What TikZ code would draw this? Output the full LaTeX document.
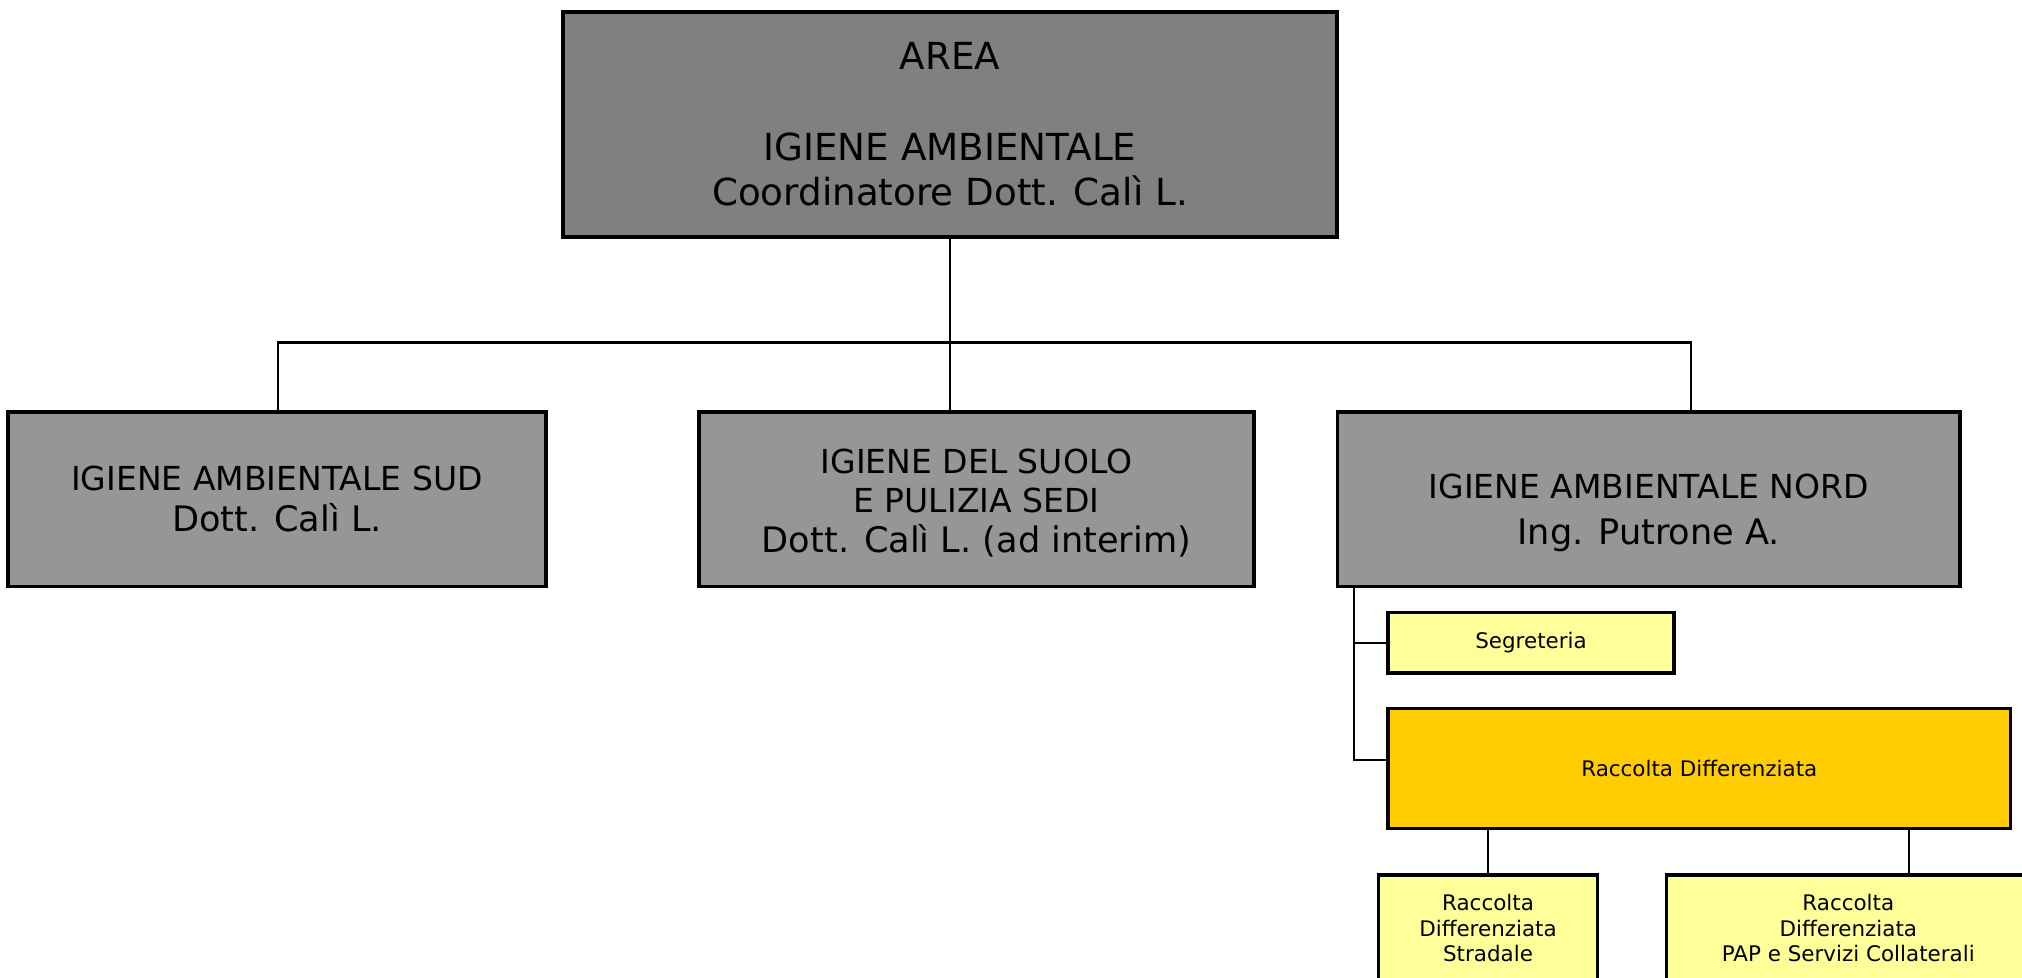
\documentclass[tikz,border=0pt]{standalone}
\usepackage{fontspec}
\setmainfont{DejaVu Sans}
\definecolor{areagray}{RGB}{128,128,128}
\definecolor{unitgray}{RGB}{150,150,150}
\definecolor{paleyellow}{RGB}{255,255,153}
\definecolor{gold}{RGB}{255,204,0}
\tikzset{
  box/.style={draw=black, line width=0.95pt, inner sep=0pt, align=center},
  areabox/.style={box, fill=areagray, minimum width=77.4mm, minimum height=22.5mm},
  unitbox/.style={box, fill=unitgray, minimum height=17.45mm},
  officebox/.style={box, fill=paleyellow, font=\fontsize{6.1}{7.3}\selectfont},
  link/.style={line width=0.6pt}
}
\begin{document}
\begin{tikzpicture}[x=0.1mm, y=-0.1mm]

\useasboundingbox (0,0) rectangle (2022,977);

% Area
\node[areabox, font=\fontsize{10.6}{12.8}\selectfont] (area) at (950,124.5) {AREA\\[13pt]
  IGIENE AMBIENTALE\\ Coordinatore Dott. Calì L.};

% Servizi
\node[unitbox, minimum width=53.8mm, font=\fontsize{9.4}{11.7}\selectfont] (sud) at (277,499.3)
  {IGIENE AMBIENTALE SUD\\ \fontsize{10}{11.7}\selectfont Dott. Calì L.};
\node[unitbox, minimum width=55.5mm, font=\fontsize{9.4}{11.2}\selectfont] (suolo) at (976.5,499.3)
  {\rule{0pt}{9pt}IGIENE DEL SUOLO\\ E PULIZIA SEDI\\ \fontsize{10}{11.2}\selectfont Dott. Calì L. (ad interim)};
\node[unitbox, minimum width=62.25mm, font=\fontsize{9.4}{13.1}\selectfont] (nord) at (1648.8,499.3)
  {\rule{0pt}{14.5pt}IGIENE AMBIENTALE NORD\\ \fontsize{10}{13.1}\selectfont Ing. Putrone A.};

% Uffici
\node[officebox, minimum width=28.6mm, minimum height=6.07mm] (segr) at (1531,642.8) {Segreteria};
\node[box, fill=gold, font=\fontsize{6.1}{7.3}\selectfont, minimum width=62.25mm, minimum height=12.04mm] (rdiff) at (1699.3,768.6) {Raccolta Differenziata};
\node[officebox, minimum width=21.9mm, minimum height=10.6mm] (strad) at (1488,928) {Raccolta\\ Differenziata\\ Stradale};
\node[officebox, minimum width=36.33mm, minimum height=10.6mm] (pap) at (1848.3,928) {Raccolta\\ Differenziata\\ PAP e Servizi Collaterali};

% Connettori
\coordinate (busL) at (278,342.5);
\coordinate (busR) at (1691,342.5);
\coordinate (side) at (1354,760);
\coordinate (papX) at (1909,0);

\draw[link] (area.south) -- (area.south |- suolo.north);
\draw[link] (busL |- sud.north) -- (busL) -- (busR) -- (busR |- nord.north);
\draw[link] (side |- nord.south) -- (side) -- (side -| rdiff.west);
\draw[link] (side |- segr.west) -- (segr.west);
\draw[link] (strad.north) -- (strad.north |- rdiff.south);
\draw[link] (papX |- rdiff.south) -- (papX |- pap.north);

\end{tikzpicture}
\end{document}
